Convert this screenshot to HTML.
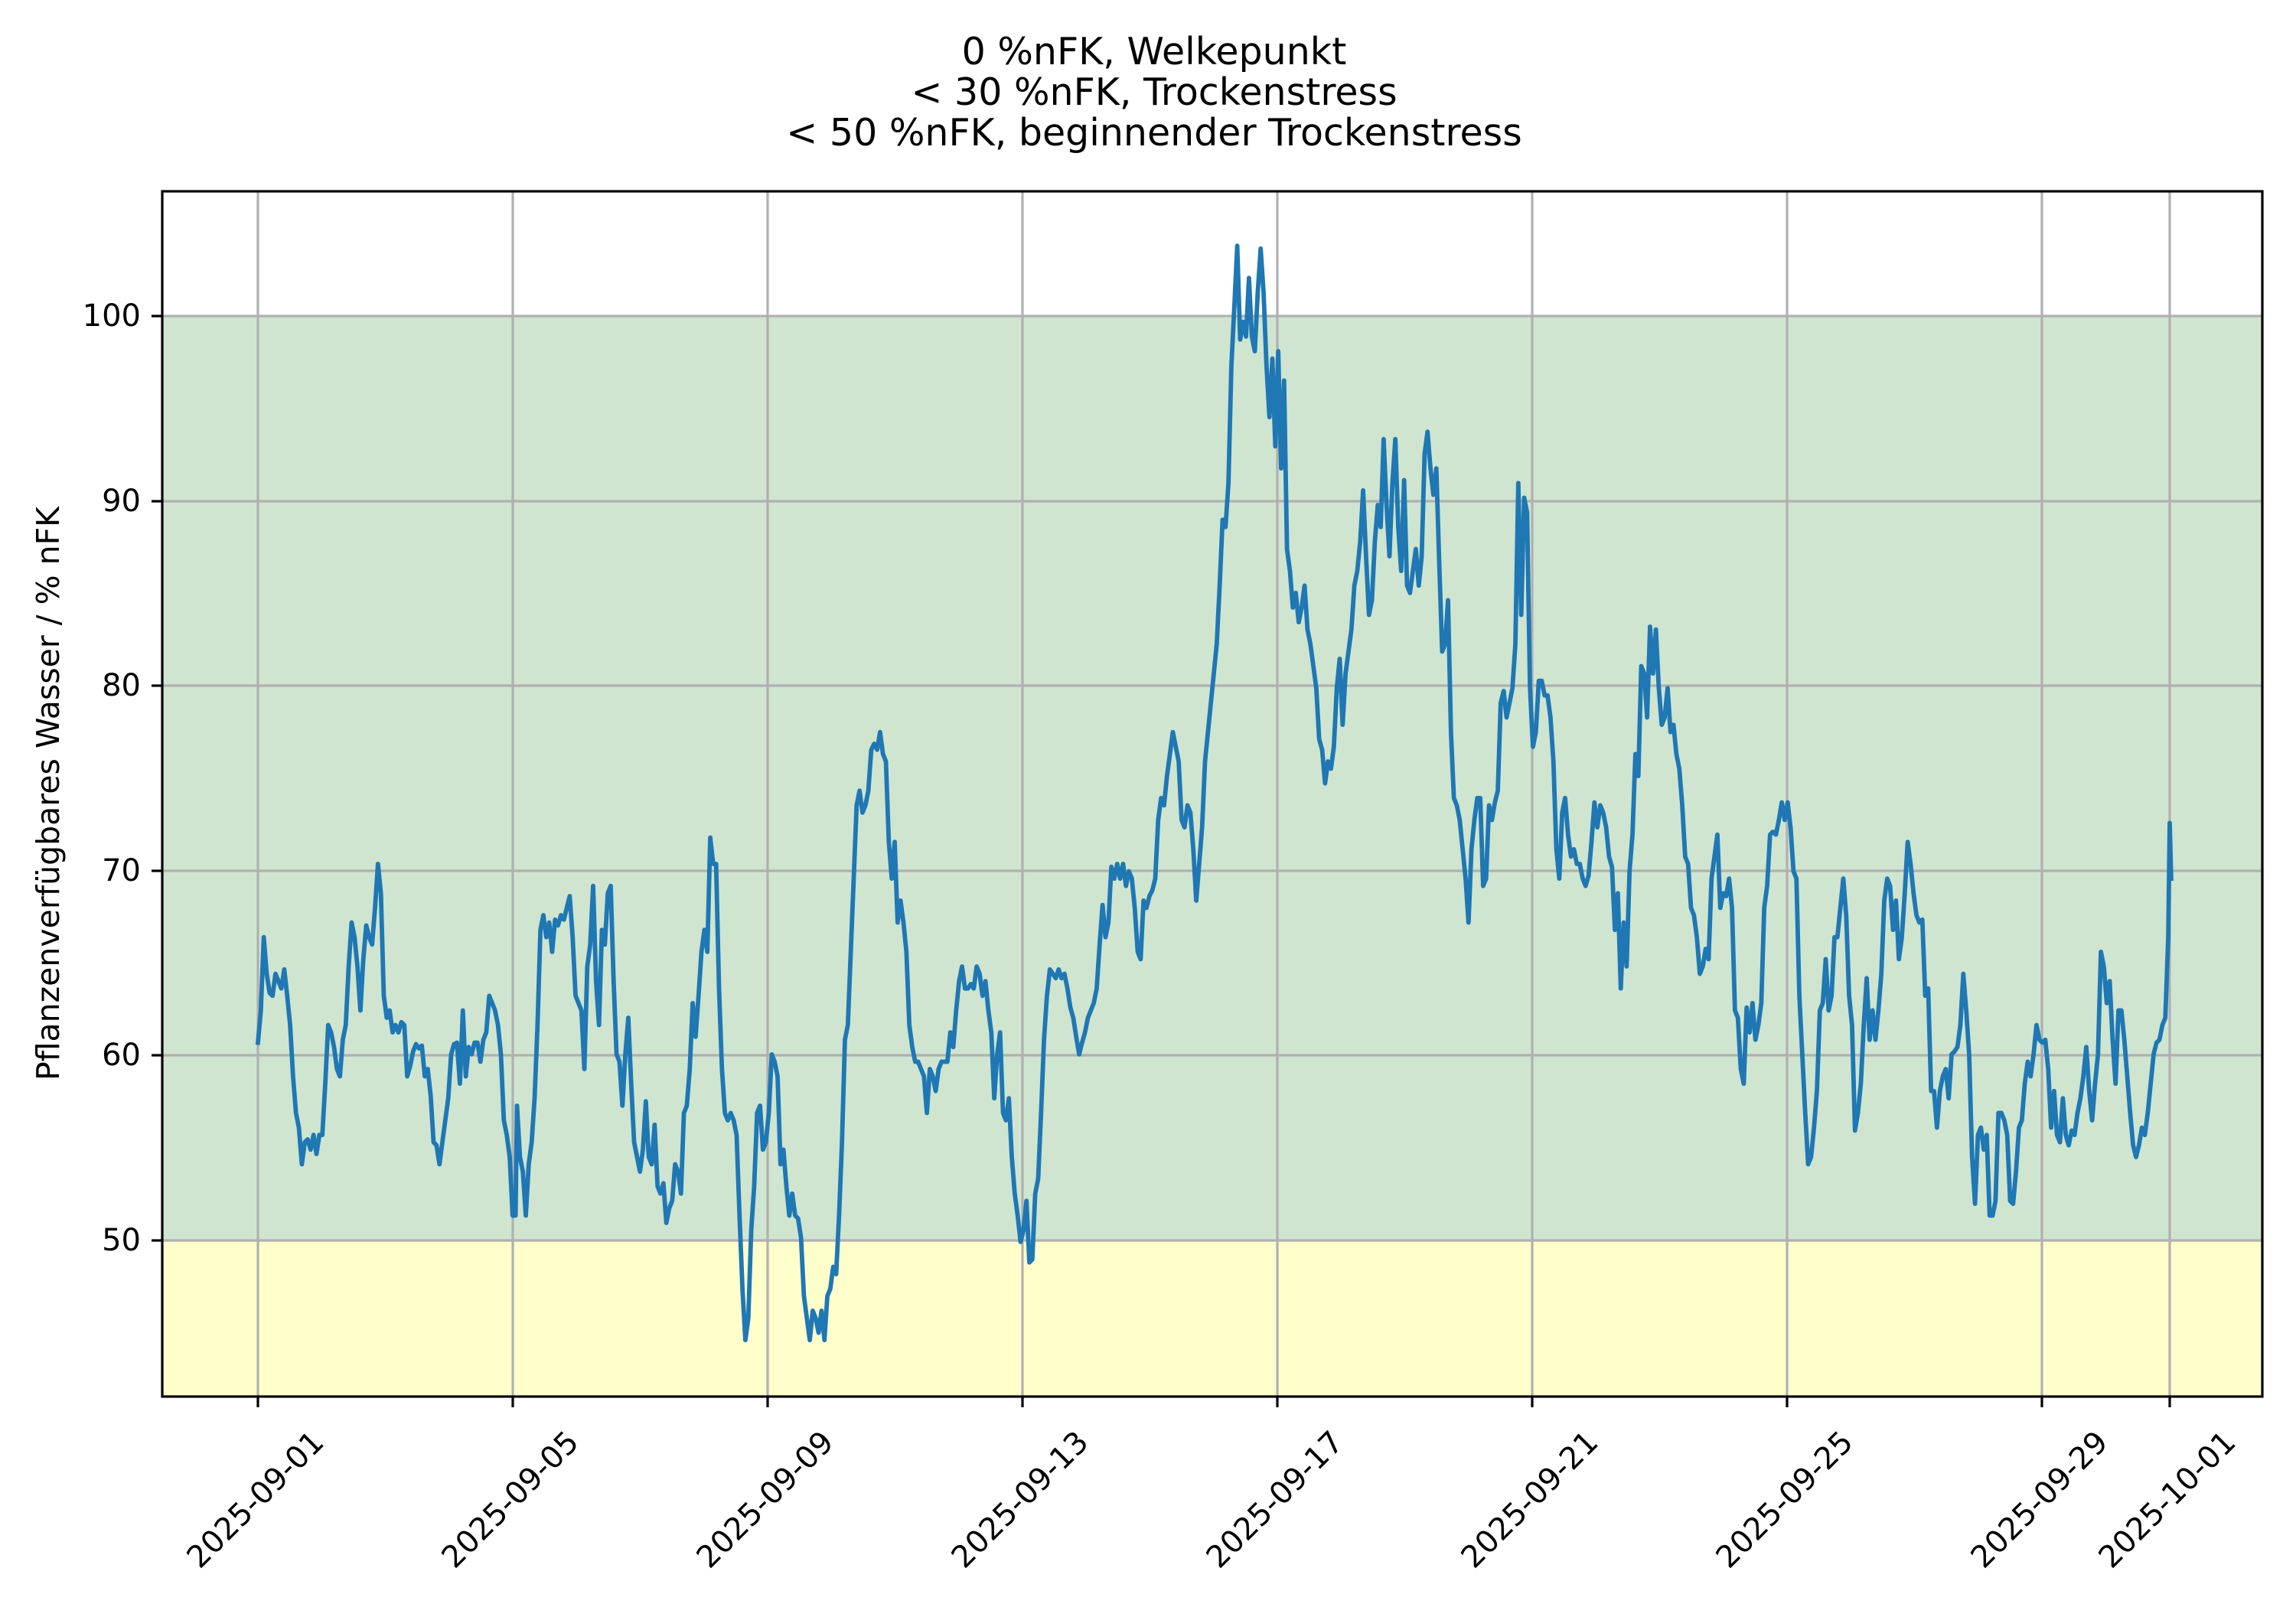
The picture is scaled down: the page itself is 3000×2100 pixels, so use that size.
<!DOCTYPE html>
<html><head><meta charset="utf-8"><style>html,body{margin:0;padding:0;background:#fff}svg{display:block}text{font-family:"DejaVu Sans","Liberation Sans",sans-serif;fill:#000}</style></head><body>
<svg xmlns="http://www.w3.org/2000/svg" width="3000" height="2100" viewBox="0 0 3000 2100">
<rect x="0" y="0" width="3000" height="2100" fill="#fff"/>
<rect x="212" y="413" width="2744" height="1208" fill="#cfe5cf"/>
<rect x="212" y="1621" width="2744" height="204" fill="#ffffcc"/>
<g stroke="#b0b0b0" stroke-width="3.2">
<line x1="337" y1="250" x2="337" y2="1825"/><line x1="670" y1="250" x2="670" y2="1825"/><line x1="1003" y1="250" x2="1003" y2="1825"/><line x1="1336" y1="250" x2="1336" y2="1825"/><line x1="1669" y1="250" x2="1669" y2="1825"/><line x1="2002" y1="250" x2="2002" y2="1825"/><line x1="2335" y1="250" x2="2335" y2="1825"/><line x1="2668" y1="250" x2="2668" y2="1825"/><line x1="2835" y1="250" x2="2835" y2="1825"/>
<line x1="212" y1="1621" x2="2956" y2="1621"/><line x1="212" y1="1379" x2="2956" y2="1379"/><line x1="212" y1="1138" x2="2956" y2="1138"/><line x1="212" y1="896" x2="2956" y2="896"/><line x1="212" y1="655" x2="2956" y2="655"/><line x1="212" y1="413" x2="2956" y2="413"/>
</g>
<g transform="translate(337,413) scale(1.9127,1.9144) translate(-176,-216)">
<polyline fill="none" stroke="#1f77b4" stroke-width="5.8" vector-effect="non-scaling-stroke" stroke-linejoin="round" stroke-linecap="square" points="176,712 178,690 180,640 182,665 184,678 186,680 188,665 190,670 192,675 194,662 196,680 198,700 200,735 202,760 204,770 206,795 208,780 210,778 212,785 214,775 216,788 218,775 220,775 222,740 224,700 226,705 228,715 230,730 232,735 234,710 236,700 238,660 240,630 242,640 244,660 246,690 248,655 250,632 252,640 254,645 256,620 258,590 260,610 262,680 264,695 266,690 268,705 270,700 272,705 274,698 276,700 278,735 280,728 282,718 284,713 286,716 288,714 290,735 292,730 294,748 296,780 298,782 300,795 302,780 304,765 306,750 308,720 310,713 312,712 314,740 316,690 318,735 320,715 322,720 324,712 326,712 328,725 330,710 332,705 334,680 336,685 338,690 340,700 342,720 344,765 346,775 348,790 350,830 352,830 353,755 355,790 357,800 359,830 361,795 363,780 365,750 367,700 369,635 371,625 373,640 375,630 377,650 379,628 381,632 383,625 385,628 387,620 389,612 391,640 393,680 395,685 397,690 399,730 401,660 403,645 405,605 407,670 409,700 411,635 413,645 415,610 417,605 419,670 421,720 423,725 425,755 427,720 429,695 431,740 433,780 435,790 437,800 439,785 441,752 443,790 445,795 447,768 449,810 451,815 453,808 455,835 457,825 459,820 461,795 463,800 465,815 467,760 469,755 471,730 473,685 475,708 477,680 479,650 481,635 483,650 485,572 487,590 489,590 491,675 493,730 495,760 497,765 499,760 501,765 503,775 505,830 507,880 509,915 511,900 513,840 515,810 517,760 519,755 521,785 523,780 525,760 527,720 529,725 531,735 533,795 535,785 537,810 539,830 541,815 543,830 545,832 547,845 549,885 551,900 553,915 555,895 557,900 559,910 561,895 563,915 565,885 567,880 569,865 571,870 573,830 575,780 577,710 579,700 581,650 583,600 585,550 587,540 589,555 591,550 593,540 595,512 597,508 599,512 601,500 603,515 605,520 607,575 609,600 611,575 613,630 615,615 617,630 619,650 621,700 623,715 625,725 627,725 629,730 631,735 633,760 635,730 637,735 639,745 641,730 643,725 645,725 647,725 649,705 651,715 653,690 655,670 657,660 659,675 661,675 663,672 665,675 667,660 669,665 671,680 673,670 675,690 677,705 679,750 681,720 683,705 685,760 687,765 689,750 691,790 693,815 695,830 697,848 699,840 701,820 703,862 705,860 707,815 709,805 711,760 713,710 715,680 717,662 719,665 721,668 723,662 725,668 727,665 729,675 731,688 733,695 735,708 737,720 739,712 741,705 743,695 745,690 747,685 749,675 751,645 753,618 755,640 757,630 759,592 761,600 763,590 765,600 767,590 769,605 771,595 773,600 775,620 777,650 779,655 781,615 783,620 785,612 787,608 789,600 791,560 793,545 795,550 797,530 799,515 801,500 803,510 805,520 807,560 809,565 811,550 813,555 815,580 817,615 819,590 821,565 823,520 825,500 827,480 829,460 831,440 833,400 835,355 837,360 839,330 841,250 843,210 845,168 847,232 849,220 851,230 853,190 855,230 857,240 859,200 861,170 863,200 865,250 867,285 869,245 871,305 873,240 875,320 877,260 879,375 881,390 883,415 885,405 887,425 889,415 891,400 893,430 895,440 897,455 899,470 901,505 903,512 905,535 907,520 909,525 911,510 913,470 915,450 917,495 919,460 921,445 923,430 925,400 927,390 929,370 931,335 933,380 935,420 937,410 939,370 941,345 943,360 945,300 947,345 949,380 951,330 953,300 955,360 957,390 959,328 961,400 963,405 965,390 967,375 969,400 971,380 973,310 975,295 977,320 979,338 981,320 983,385 985,445 987,440 989,410 991,500 993,545 995,550 997,560 999,580 1001,600 1003,630 1005,580 1007,560 1009,545 1011,545 1013,605 1015,600 1017,550 1019,560 1021,548 1023,540 1025,480 1027,472 1029,490 1031,480 1033,470 1035,440 1037,330 1039,420 1041,340 1043,350 1045,470 1047,510 1049,500 1051,465 1053,465 1055,475 1057,475 1059,490 1061,520 1063,580 1065,600 1067,555 1069,545 1071,570 1073,585 1075,580 1077,590 1079,590 1081,600 1083,605 1085,598 1087,575 1089,548 1091,565 1093,550 1095,555 1097,565 1099,585 1101,592 1103,635 1105,610 1107,675 1109,630 1111,660 1113,595 1115,570 1117,515 1119,530 1121,455 1123,460 1125,490 1127,428 1129,460 1131,430 1133,470 1135,495 1137,490 1139,470 1141,500 1143,495 1145,515 1147,525 1149,550 1151,585 1153,590 1155,620 1157,625 1159,640 1161,665 1163,660 1165,648 1167,655 1169,600 1171,585 1173,570 1175,620 1177,610 1179,612 1181,600 1183,620 1185,690 1187,695 1189,730 1191,740 1193,688 1195,705 1197,685 1199,710 1201,700 1203,685 1205,620 1207,605 1209,570 1211,568 1213,570 1215,560 1217,548 1219,560 1221,548 1223,565 1225,595 1227,600 1229,680 1231,720 1233,760 1235,795 1237,790 1239,770 1241,745 1243,690 1245,685 1247,655 1249,690 1251,680 1253,640 1255,640 1257,620 1259,600 1261,625 1263,680 1265,700 1267,772 1269,760 1271,740 1273,700 1275,668 1277,710 1279,690 1281,710 1283,690 1285,665 1287,615 1289,600 1291,605 1293,635 1295,615 1297,655 1299,640 1301,610 1303,575 1305,590 1307,610 1309,625 1311,630 1313,628 1315,680 1317,675 1319,745 1321,745 1323,770 1325,745 1327,735 1329,730 1331,750 1333,720 1335,718 1337,715 1339,700 1341,665 1343,690 1345,720 1347,790 1349,822 1351,775 1353,770 1355,785 1357,775 1359,830 1361,830 1363,820 1365,760 1367,760 1369,765 1371,775 1373,820 1375,822 1377,800 1379,770 1381,765 1383,740 1385,725 1387,735 1389,720 1391,700 1393,710 1395,712 1397,710 1399,730 1401,770 1403,745 1405,775 1407,780 1409,750 1411,775 1413,782 1415,772 1417,775 1419,760 1421,750 1423,735 1425,715 1427,745 1429,765 1431,740 1433,720 1435,650 1437,660 1439,685 1441,670 1443,710 1445,740 1447,690 1449,690 1451,710 1453,735 1455,760 1457,782 1459,790 1461,782 1463,770 1465,775 1467,760 1469,740 1471,720 1473,712 1475,710 1477,700 1479,695 1481,640 1482,562 1483,600"/>
</g>
<rect x="212" y="250" width="2744" height="1575" fill="none" stroke="#000" stroke-width="3.2"/>
<g stroke="#000" stroke-width="3.2">
<line x1="198" y1="1621" x2="212" y2="1621"/><line x1="198" y1="1379" x2="212" y2="1379"/><line x1="198" y1="1138" x2="212" y2="1138"/><line x1="198" y1="896" x2="212" y2="896"/><line x1="198" y1="655" x2="212" y2="655"/><line x1="198" y1="413" x2="212" y2="413"/>
<line x1="337" y1="1825" x2="337" y2="1839"/><line x1="670" y1="1825" x2="670" y2="1839"/><line x1="1003" y1="1825" x2="1003" y2="1839"/><line x1="1336" y1="1825" x2="1336" y2="1839"/><line x1="1669" y1="1825" x2="1669" y2="1839"/><line x1="2002" y1="1825" x2="2002" y2="1839"/><line x1="2335" y1="1825" x2="2335" y2="1839"/><line x1="2668" y1="1825" x2="2668" y2="1839"/><line x1="2835" y1="1825" x2="2835" y2="1839"/>
</g>
<g font-size="40" text-anchor="end" dominant-baseline="central">
<text x="184" y="1621">50</text><text x="184" y="1379">60</text><text x="184" y="1138">70</text><text x="184" y="896">80</text><text x="184" y="655">90</text><text x="184" y="413">100</text>
</g>
<g font-size="40" text-anchor="middle" dominant-baseline="central">
<text transform="translate(334,1960) rotate(-45)">2025-09-01</text>
<text transform="translate(667,1960) rotate(-45)">2025-09-05</text>
<text transform="translate(1000,1960) rotate(-45)">2025-09-09</text>
<text transform="translate(1333,1960) rotate(-45)">2025-09-13</text>
<text transform="translate(1666,1960) rotate(-45)">2025-09-17</text>
<text transform="translate(1999,1960) rotate(-45)">2025-09-21</text>
<text transform="translate(2332,1960) rotate(-45)">2025-09-25</text>
<text transform="translate(2665,1960) rotate(-45)">2025-09-29</text>
<text transform="translate(2832,1960) rotate(-45)">2025-10-01</text>
</g>
<text font-size="41" text-anchor="middle" dominant-baseline="central" transform="translate(63,1037) rotate(-90)">Pflanzenverfügbares Wasser / % nFK</text>
<g font-size="49" text-anchor="middle">
<text x="1508" y="84">0 %nFK, Welkepunkt</text>
<text x="1508" y="137">&lt; 30 %nFK, Trockenstress</text>
<text x="1508" y="190">&lt; 50 %nFK, beginnender Trockenstress</text>
</g>
</svg>
</body></html>
